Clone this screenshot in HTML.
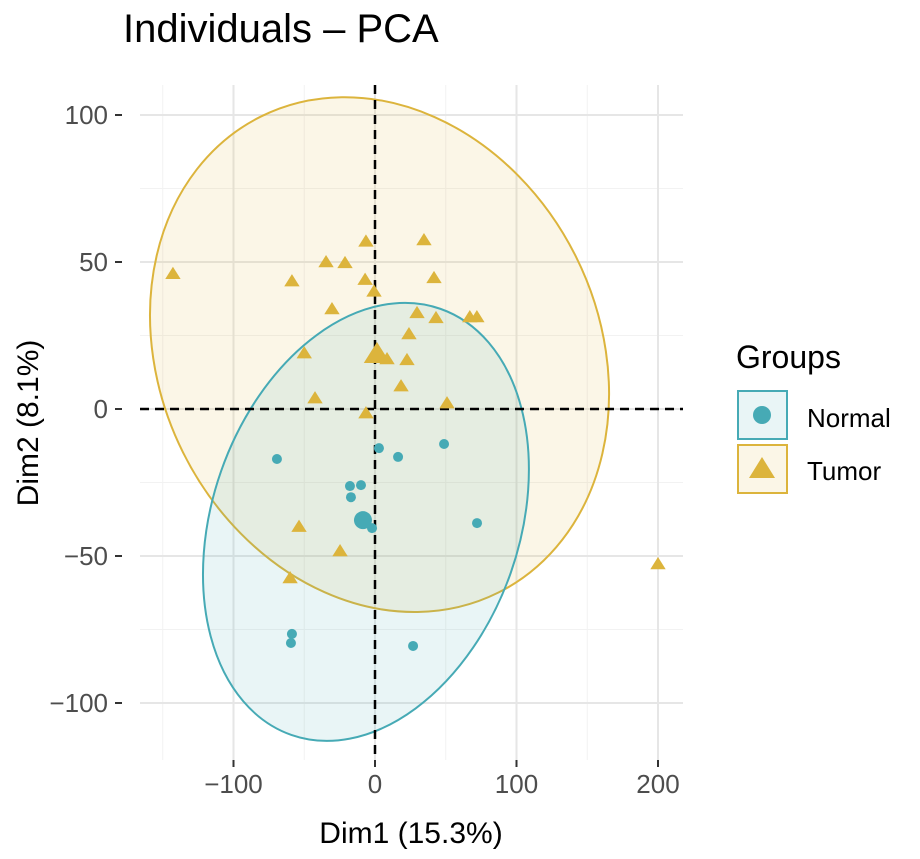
<!DOCTYPE html>
<html><head><meta charset="utf-8"><style>
body{margin:0;background:#fff;}
svg text{font-family:"Liberation Sans",sans-serif;}
</style></head><body>
<svg id="c" width="920" height="854" xmlns="http://www.w3.org/2000/svg"></svg>
<script>
const xTicks=[-100,0,100,200];
const yTicks=[-100,-50,0,50,100];
const tumorX=[-142.8,-58.7,-34.6,-21.2,-6.4,-7,-0.7,34.6,41.7,-30.4,29.7,43.1,67,72,24,-50,8.5,22.6,18.4,-42.4,50.9,-6.4,-53.7,-24.7,-60,200];
const tumorY=[46,43.5,50,49.7,57,44,40,57.5,44.6,34,32.7,31,31.3,31.3,25.5,19,17,16.7,7.8,3.7,2,-1.4,-40,-48.3,-57.5,-52.7];
const normalX=[-69.3,2.8,16.3,48.8,-17.7,-9.9,-17,-2.1,72.1,-58.7,-59.4,26.9];
const normalY=[-17,-13.3,-16.3,-11.9,-26.2,-25.9,-30,-40.5,-38.8,-76.5,-79.6,-80.6];
const tumorMean=[1.4,18.7];
const normalMean=[-8.5,-37.8];
const tumorEllipseCenter=[3.2,18.5];
const normalEllipseCenter=[-6.4,-38.4];

const NS="http://www.w3.org/2000/svg";
const svg=document.getElementById('c');
const X=v=>375+v*1.415;
const Y=v=>409-v*2.94;
const L=140,R=683,T=85,B=760;
const TC='#dcb43c',NC='#46aab5';
function el(t,a,p){const e=document.createElementNS(NS,t);for(const k in a)e.setAttribute(k,a[k]);(p||svg).appendChild(e);return e;}
const minorX=[-150,-50,50,150],minorY=[-75,-25,25,75];
minorX.forEach(v=>{const e=el('line',{x1:X(v),x2:X(v),y1:T,y2:B,stroke:'#f2f2f2','stroke-width':1});});
minorY.forEach(v=>{const e=el('line',{x1:L,x2:R,y1:Y(v),y2:Y(v),stroke:'#f2f2f2','stroke-width':1});});
xTicks.forEach(v=>{const e=el('line',{x1:X(v),x2:X(v),y1:T,y2:B,stroke:'#e6e6e6','stroke-width':2});
const t=el('line',{x1:X(v),x2:X(v),y1:B,y2:B+7,stroke:'#333','stroke-width':2});
const l=el('text',{x:X(v),y:B+33,'text-anchor':'middle','font-size':26,fill:'#4d4d4d'});l.textContent=v<0?'\u2212'+(-v):v;});
yTicks.forEach(v=>{const e=el('line',{x1:L,x2:R,y1:Y(v),y2:Y(v),stroke:'#e6e6e6','stroke-width':2});
const t=el('line',{x1:L-25,x2:L-18,y1:Y(v),y2:Y(v),stroke:'#333','stroke-width':2});
const l=el('text',{x:L-32,y:Y(v)+9,'text-anchor':'end','font-size':26,fill:'#4d4d4d'});l.textContent=v<0?'\u2212'+(-v):v;});
const te=el('ellipse',{cx:X(tumorEllipseCenter[0]),cy:Y(tumorEllipseCenter[1]),rx:219.5,ry:266,fill:TC,'fill-opacity':0.12,stroke:TC,'stroke-width':2,transform:`rotate(-26.5 ${X(tumorEllipseCenter[0])} ${Y(tumorEllipseCenter[1])})`});

const ne=el('ellipse',{cx:X(normalEllipseCenter[0]),cy:Y(normalEllipseCenter[1]),rx:153.5,ry:225.7,fill:NC,'fill-opacity':0.12,stroke:NC,'stroke-width':2,transform:`rotate(19.3 ${X(normalEllipseCenter[0])} ${Y(normalEllipseCenter[1])})`});

const zx=el('line',{x1:X(0),x2:X(0),y1:T,y2:B,stroke:'#000','stroke-width':2.5,'stroke-dasharray':'9,6'});
const zy=el('line',{x1:L,x2:R,y1:Y(0),y2:Y(0),stroke:'#000','stroke-width':2.5,'stroke-dasharray':'9,6'});
function tri(cx,cy,s){return `${cx},${cy-s} ${cx-s*1.1},${cy+s*0.75} ${cx+s*1.1},${cy+s*0.75}`;}
tumorX.forEach((v,i)=>{const p=el('polygon',{points:tri(X(v),Y(tumorY[i]),7),fill:TC});});
normalX.forEach((v,i)=>{const p=el('circle',{cx:X(v),cy:Y(normalY[i]),r:5,fill:NC});});
const tm=el('polygon',{points:tri(X(tumorMean[0]),Y(tumorMean[1]),12),fill:TC});
const nm=el('circle',{cx:X(normalMean[0]),cy:Y(normalMean[1]),r:9,fill:NC});
</script>
<svg width="920" height="854" style="position:absolute;left:0;top:0">
<text x="123" y="42" font-size="40" fill="#000">Individuals – PCA</text>
<text x="411" y="843" font-size="30" text-anchor="middle" fill="#000">Dim1 (15.3%)</text>
<text transform="translate(38,423) rotate(-90)" font-size="30" text-anchor="middle" fill="#000">Dim2 (8.1%)</text>
<text x="736" y="368" font-size="32" fill="#000">Groups</text>
<g>
<rect x="738" y="391" width="49" height="48" fill="#46aab5" fill-opacity="0.12" stroke="#46aab5" stroke-width="2"/>
<circle cx="762" cy="415" r="9" fill="#46aab5"/>
<text x="807" y="427" font-size="26" fill="#000">Normal</text></g>
<g>
<rect x="738" y="445" width="49" height="48" fill="#dcb43c" fill-opacity="0.12" stroke="#dcb43c" stroke-width="2"/>
<polygon points="762,457 749,478 775,478" fill="#dcb43c"/>
<text x="807" y="480" font-size="26" fill="#000">Tumor</text></g>
</svg>
</body></html>
